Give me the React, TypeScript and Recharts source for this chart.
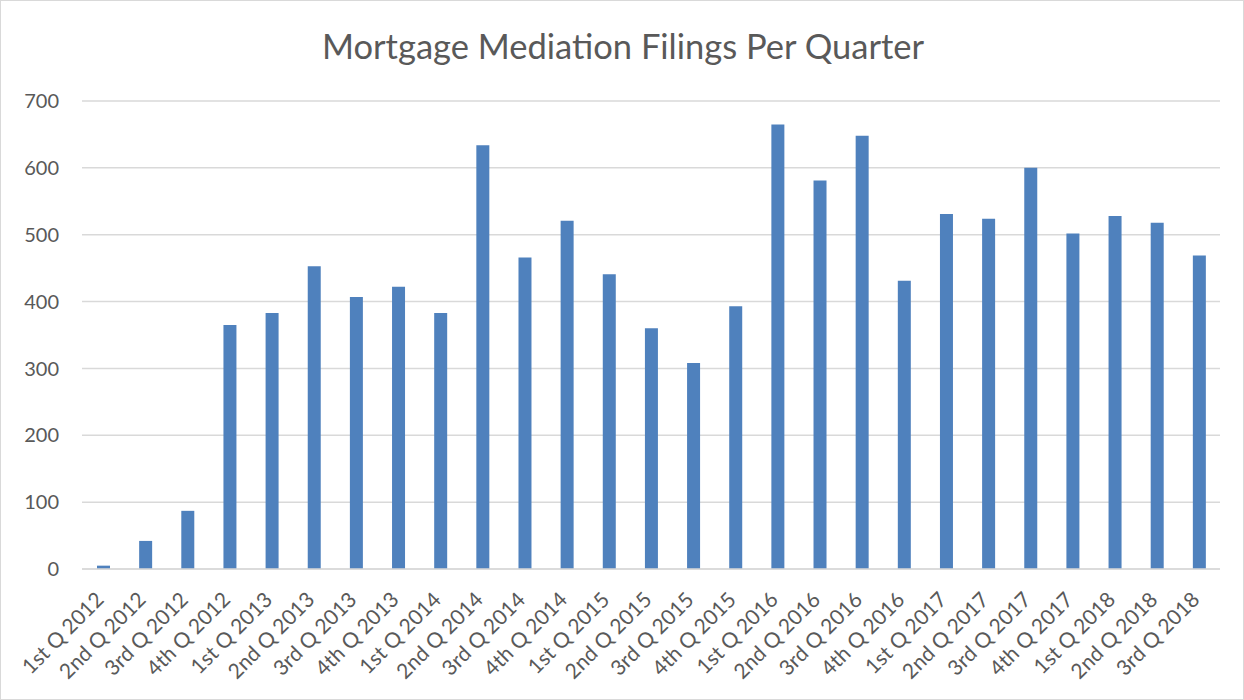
import { BarChart, Bar, XAxis, YAxis, CartesianGrid } from "recharts";

const QUARTERS = [
  "1st Q 2012", "2nd Q 2012", "3rd Q 2012", "4th Q 2012",
  "1st Q 2013", "2nd Q 2013", "3rd Q 2013", "4th Q 2013",
  "1st Q 2014", "2nd Q 2014", "3rd Q 2014", "4th Q 2014",
  "1st Q 2015", "2nd Q 2015", "3rd Q 2015", "4th Q 2015",
  "1st Q 2016", "2nd Q 2016", "3rd Q 2016", "4th Q 2016",
  "1st Q 2017", "2nd Q 2017", "3rd Q 2017", "4th Q 2017",
  "1st Q 2018", "2nd Q 2018", "3rd Q 2018",
];

const FILINGS = [
  5, 42, 87, 365,
  383, 453, 407, 422,
  383, 634, 466, 521,
  441, 360, 308, 393,
  665, 581, 648, 431,
  531, 524, 600, 502,
  528, 518, 469,
];

const Y_TICKS = [0, 100, 200, 300, 400, 500, 600, 700];

const FONT = "Lato, 'Open Sans', sans-serif";
const TEXT = "#595959";

const data = QUARTERS.map((q, i) => ({ quarter: q, filings: FILINGS[i] }));

function QuarterTick({ x, y, payload }: any) {
  const tx = x + 2;
  const ty = y + 24;
  return (
    <text
      x={tx}
      y={ty}
      transform={`rotate(-45, ${tx}, ${ty})`}
      textAnchor="end"
      fontSize={21}
      fontFamily={FONT}
      fill={TEXT}
    >
      {payload.value}
    </text>
  );
}

export default function App() {
  return (
    <div style={{ position: "absolute", left: 0, top: 0, width: 1244, height: 700, background: "#fff", boxSizing: "border-box", border: "1px solid #d9d9d9" }}>
      <div style={{ position: "absolute", left: 0, top: 24, width: 1244, textAlign: "center", fontFamily: FONT, fontSize: 34.5, color: TEXT }}>
        Mortgage Mediation Filings Per Quarter
      </div>
      <BarChart width={1242} height={698} data={data}
        margin={{ top: 100, right: 23, left: 21, bottom: 20 }} barSize={13}>
        <CartesianGrid vertical={false} stroke="#d9d9d9" strokeWidth={1.5} />
        <XAxis dataKey="quarter" interval={0} height={110} tickLine={false}
          axisLine={{ stroke: "#d9d9d9", strokeWidth: 1.5 }} tick={<QuarterTick />} />
        <YAxis domain={[0, 700]} ticks={Y_TICKS} width={60} axisLine={false} tickLine={false}
          tick={{ fontSize: 20, fill: TEXT, fontFamily: FONT }} tickMargin={17} />
        <Bar dataKey="filings" fill="#4f81bd" isAnimationActive={false} />
      </BarChart>
    </div>
  );
}
